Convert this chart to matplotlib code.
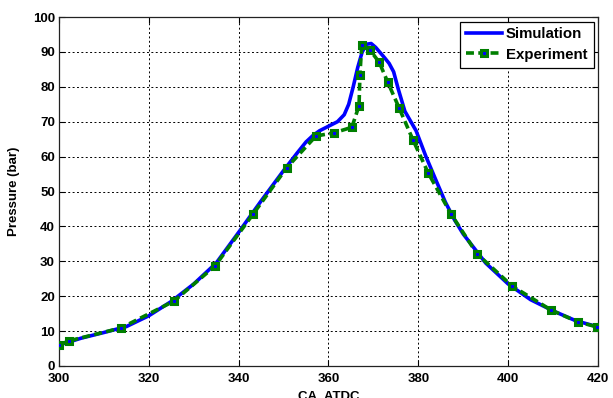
import matplotlib
matplotlib.use("Agg")
import matplotlib.pyplot as plt

# Simulation curve
sim_x = [300, 305, 310, 315, 320, 325, 330, 335, 340, 345, 350, 353, 355, 356.5,
         358, 360, 362, 363.5, 364.5, 365.5, 366.5, 367.5, 368.5, 369.5, 370.5,
         371.5, 372.5, 373.5, 374.5, 375.5, 377, 379.5, 381.7, 384, 386, 388, 390,
         395, 400, 405, 410, 415, 420]
sim_y = [6.0, 8.0, 9.6, 11.3, 14.4, 18.5, 23.5, 29.5, 38.3, 47.3, 56.0, 61.0, 64.2,
         66.0, 67.4, 68.7, 70.0, 72.0, 75.0, 80.0, 85.5, 90.0, 92.2, 92.4, 91.3,
         89.8, 88.3, 86.7, 84.3, 79.5, 73.0, 67.4, 60.0, 53.0, 47.0, 42.0, 37.8,
         29.5, 23.5, 19.0, 15.8, 13.0, 11.2]

# Experiment points
exp_x = [300, 302.2, 313.8, 325.6, 334.7, 343.2, 350.7, 357.2, 361.2, 365.2, 366.8,
         367.0, 367.4, 369.2, 371.3, 373.2, 375.7, 378.8, 382.2, 387.3, 393.1,
         400.9, 409.6, 415.6, 419.8]
exp_y = [6.0, 7.2, 10.9, 18.6, 28.6, 43.5, 56.8, 65.9, 66.8, 68.4, 74.6, 83.5, 92.0,
         90.6, 87.0, 81.3, 74.0, 64.8, 55.3, 43.5, 32.1, 22.9, 16.0, 12.6, 11.2]

xticks = [300, 320, 340, 360, 380, 400, 420]
yticks = [0, 10, 20, 30, 40, 50, 60, 70, 80, 90, 100]

plt.rcParams['font.family'] = ['Liberation Sans', 'DejaVu Sans']
plt.rcParams['font.weight'] = 'bold'

fig = plt.figure(figsize=(6.13, 3.98), dpi=100)
ax = fig.add_axes([59/613, 1-366/398, (598-59)/613, (366-17)/398])

ax.plot(sim_x, sim_y, color='#0000ff', lw=2.6, label='Simulation', zorder=3)
ax.plot(exp_x, exp_y, color='#007f00', lw=2.6, linestyle=(0, (2.2, 1.2)),
        marker='s', markersize=4.8, markerfacecolor='#0000ff',
        markeredgecolor='#007f00', markeredgewidth=2.2, label='Experiment', zorder=4)

ax.set_xlim(300, 420)
ax.set_ylim(0, 100)
ax.set_xticks(xticks)
ax.set_yticks(yticks)
ax.grid(True, color='black', linestyle=(0, (2, 2.5)), linewidth=0.7)
ax.tick_params(direction='in', length=4, width=0.8, top=True, right=True,
               labelsize=9.5, colors='black')
ax.tick_params(axis='x', pad=5)
ax.tick_params(axis='y', pad=3)
for lab in ax.get_xticklabels() + ax.get_yticklabels():
    lab.set_fontweight('bold')
for s in ax.spines.values():
    s.set_linewidth(0.9)
    s.set_color('#222222')

ax.set_xlabel('CA, ATDC', fontsize=9.5, fontweight='bold', labelpad=4)
ax.set_ylabel('Pressure (bar)', fontsize=9.5, fontweight='bold', labelpad=9)

leg = ax.legend(loc='upper right', fontsize=10.8, frameon=True, fancybox=False,
                edgecolor='black', framealpha=1, borderpad=0.4, handlelength=2.4,
                handletextpad=0.3, labelspacing=0.4, borderaxespad=0.3)
leg.get_frame().set_linewidth(0.9)
for t in leg.get_texts():
    t.set_fontweight('bold')

fig.savefig('out.png', dpi=100)
